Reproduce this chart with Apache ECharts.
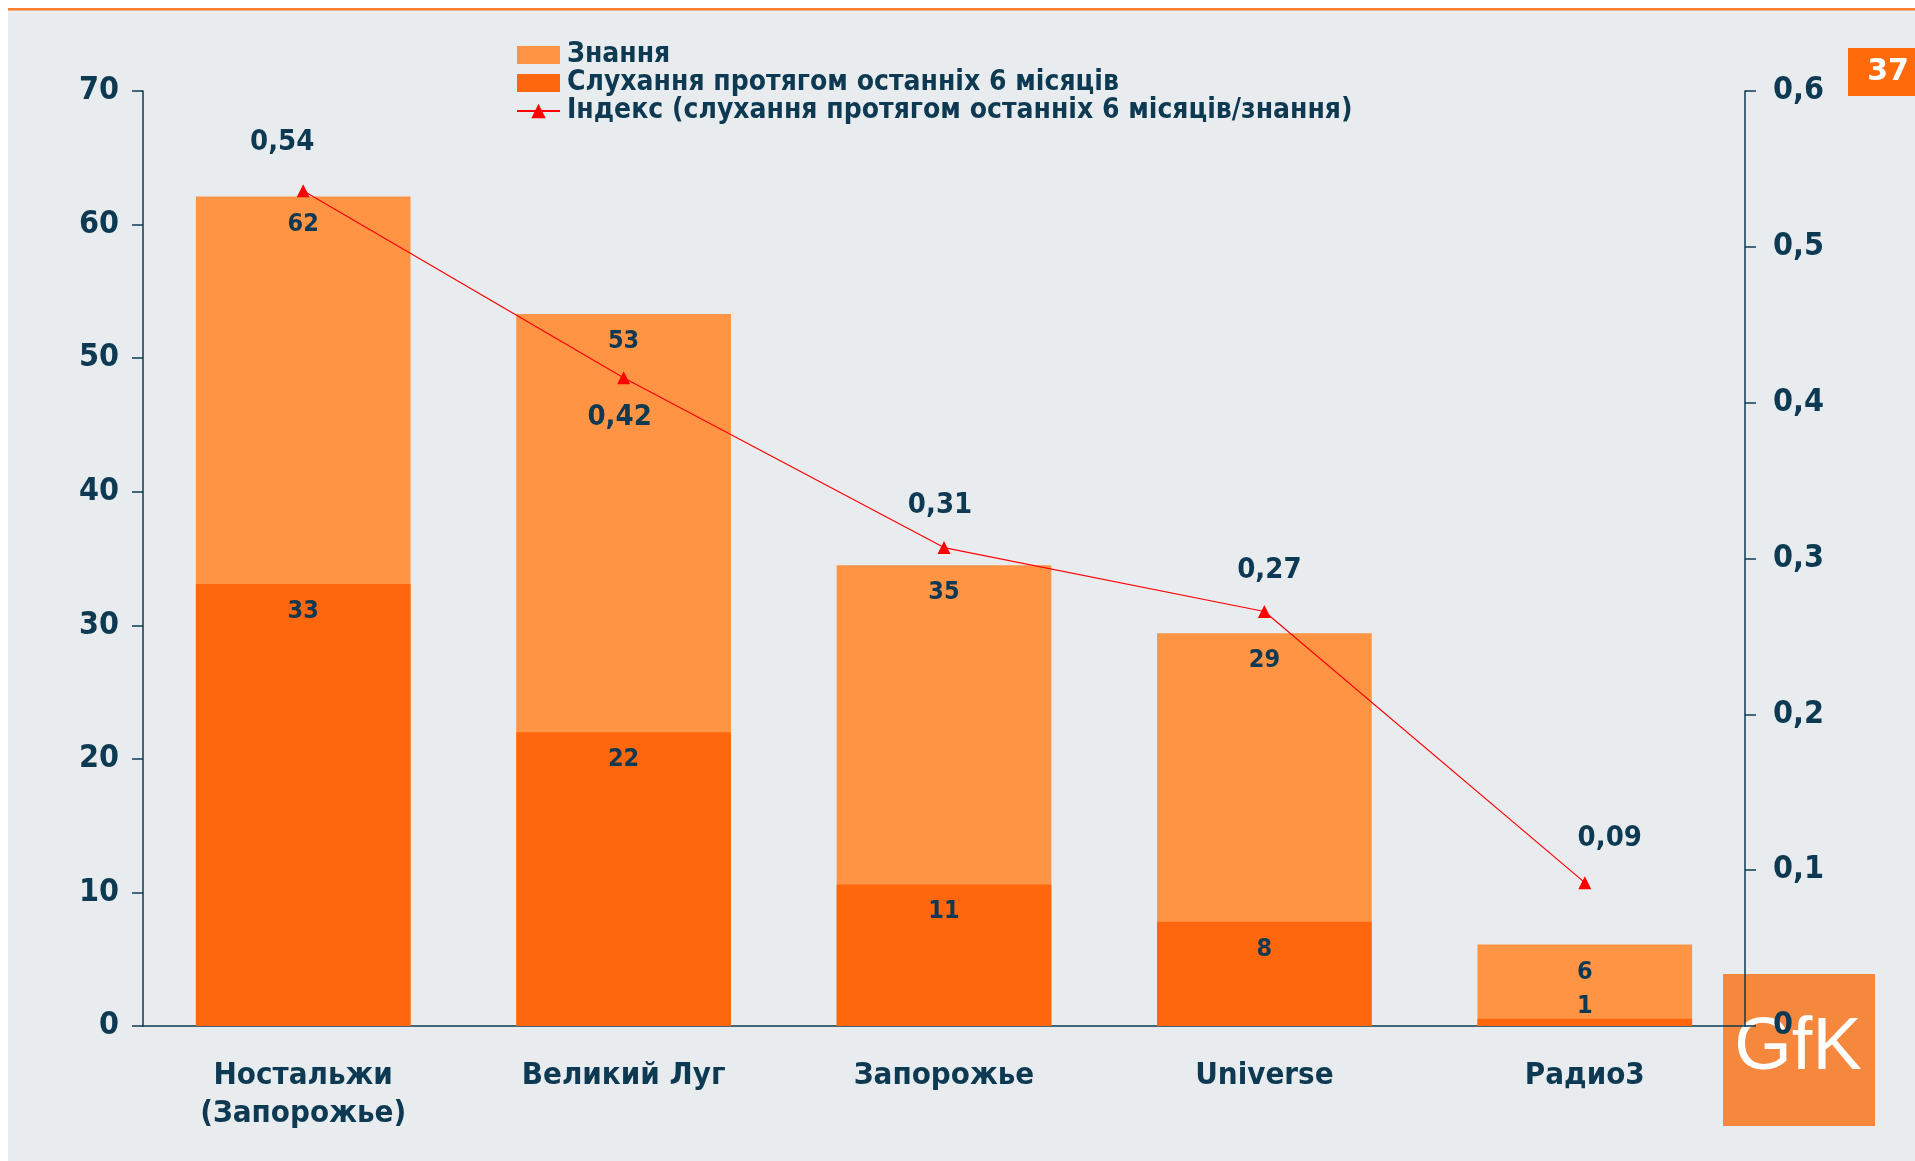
<!DOCTYPE html>
<html>
<head>
<meta charset="utf-8">
<script src="https://cdn.jsdelivr.net/npm/echarts@6/dist/echarts.min.js"></script>
<style>
  html, body { margin: 0; padding: 0; background: #fff; }
  #main { width: 1915px; height: 1161px; }
</style>
</head>
<body>
<div id="main"></div>
<script>
// categories and values
const stations = ['Ностальжи\n(Запорожье)', 'Великий Луг', 'Запорожье', 'Universe', 'Радио3']
const knowValues = [62.1, 53.3, 34.5, 29.4, 6.1]
const listenValues = [33.1, 22, 10.6, 7.8, 0.55]
const indexValues = [0.536, 0.416, 0.307, 0.266, 0.092]
const leftTicks = [0, 70, 10]
const rightTicks = [0, 0.6, 0.1]

const seriesNames = ['Знання', 'Слухання протягом останніх 6 місяців', 'Індекс (слухання протягом останніх 6 місяців/знання)']

const navy = '#0D3A52'
const labelFont = "'DejaVu Sans Condensed', 'DejaVu Sans', sans-serif"
const legendFont = "'Liberation Sans Narrow', 'DejaVu Sans Condensed', 'Liberation Sans', sans-serif"

// where each index label sits relative to its marker
const idxLabelPos = ['top', 'bottom', 'top', 'top', 'top']
const idxLabelDist = [27, 19, 21, 20, 23]
const idxLabelDx = [-21, -4, -4, 5, 25]

let myChart = echarts.init(document.getElementById('main'))

myChart.setOption({
    backgroundColor: '#E9ECEE',
    animation: false,
    textStyle: { fontFamily: labelFont },
    legend: {
        orient: 'vertical',
        left: 511,
        top: 36,
        itemWidth: 43,
        itemHeight: 18,
        itemGap: 0,
        textStyle: { fontFamily: legendFont, fontWeight: 'bold', fontSize: 28, lineHeight: 25.5, color: navy, padding: [0, 0, 0, 2] },
        data: [
            { name: seriesNames[0], icon: 'rect' },
            { name: seriesNames[1], icon: 'rect' },
            { name: seriesNames[2] }
        ]
    },
    grid: { left: 143, right: 170, top: 91, bottom: 135 },
    xAxis: {
        type: 'category',
        data: stations,
        axisLine: { lineStyle: { color: navy, width: 1.5 } },
        axisTick: { length: 11, lineStyle: { color: navy, width: 1.5 } },
        axisLabel: { margin: 31, color: navy, fontWeight: 'bold', fontSize: 31, lineHeight: 38 }
    },
    yAxis: [{
        type: 'value',
        min: leftTicks[0], max: leftTicks[1], interval: leftTicks[2],
        splitLine: { show: false },
        axisLine: { show: true, lineStyle: { color: navy, width: 1.5 } },
        axisTick: { show: true, length: 11, lineStyle: { color: navy, width: 1.5 } },
        axisLabel: { margin: 24, color: navy, fontWeight: 'bold', fontSize: 32 }
    }, {
        type: 'value',
        position: 'right',
        min: rightTicks[0], max: rightTicks[1], interval: rightTicks[2],
        splitLine: { show: false },
        axisLine: { show: true, lineStyle: { color: navy, width: 1.5 } },
        axisTick: { show: true, length: 11, lineStyle: { color: navy, width: 1.5 } },
        axisLabel: {
            margin: 28, color: navy, fontWeight: 'bold', fontSize: 32,
            formatter: v => v === 0 ? '0' : v.toFixed(1).replace('.', ',')
        }
    }],
    series: [{
        name: seriesNames[0],
        type: 'bar',
        barWidth: '67%',
        barGap: '-100%',
        itemStyle: { color: '#FF9445' },
        label: {
            show: true, position: 'insideTop', distance: 15,
            color: navy, fontWeight: 'bold', fontSize: 25,
            formatter: p => Math.round(p.value)
        },
        data: knowValues
    }, {
        name: seriesNames[1],
        type: 'bar',
        barWidth: '67%',
        itemStyle: { color: '#FF670F' },
        label: {
            show: true, position: 'insideTop', distance: 15,
            color: navy, fontWeight: 'bold', fontSize: 25,
            formatter: p => Math.round(p.value)
        },
        data: listenValues.map((v, i) => i === listenValues.length - 1
            ? { value: v, label: { position: 'top', distance: 0 } }
            : v)
    }, {
        name: seriesNames[2],
        type: 'line',
        yAxisIndex: 1,
        symbol: 'triangle',
        symbolSize: 13,
        lineStyle: { color: '#FF0000', width: 1.2 },
        itemStyle: { color: '#FF0000' },
        label: {
            show: true, color: navy, fontWeight: 'bold', fontSize: 29,
            formatter: p => p.value.toFixed(2).replace('.', ',')
        },
        data: indexValues.map((v, i) => ({
            value: v,
            label: { position: idxLabelPos[i], distance: idxLabelDist[i], offset: [idxLabelDx[i], 0] }
        }))
    }],
    graphic: [
        // white page margin and the orange rule on top
        { type: 'rect', shape: { x: 0, y: 0, width: 1915, height: 8 }, style: { fill: '#fff' } },
        { type: 'rect', shape: { x: 0, y: 0, width: 8, height: 1161 }, style: { fill: '#fff' } },
        { type: 'rect', shape: { x: 8, y: 8, width: 1907, height: 2.5 }, style: { fill: '#FF7B2E' } },
        // page number badge
        { type: 'rect', shape: { x: 1848, y: 48, width: 67, height: 48 }, style: { fill: '#FF6A0A' } },
        { type: 'text', x: 1888, y: 72, style: { text: '37', fill: '#fff', font: "bold 30px 'DejaVu Sans'", align: 'center', verticalAlign: 'middle' } },
        // GfK logo, sits under the axis
        { type: 'rect', z: -10, shape: { x: 1723, y: 974, width: 152, height: 152 }, style: { fill: '#F5883C' } },
        { type: 'text', z: -10, x: 1798, y: 1049, style: { text: 'GfK', fill: '#fff', font: "74px 'Liberation Sans'", align: 'center', verticalAlign: 'middle' } }
    ]
})

window.onresize = function () {
    myChart.resize()
}
</script>
</body>
</html>
